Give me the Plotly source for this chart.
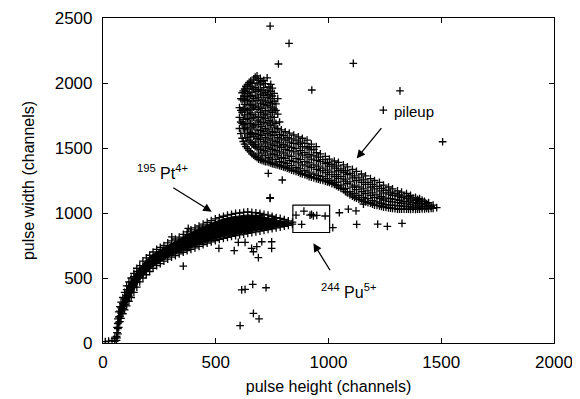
import plotly.graph_objects as go

# ---- data ----
# 195Pt4+ band: column x positions and the y values seen in each column
pt_col_x = [10, 25, 40, 52, 60, 62, 66, 70, 75, 80, 88, 96, 105, 115, 125, 137, 150, 163, 177, 192,
            207, 222, 238, 254, 270, 287, 304, 321, 338, 356, 373, 390, 408, 426, 444, 462, 480,
            498, 516, 534, 552, 570, 588, 606, 624, 642, 660, 678, 696, 714, 732, 750, 768, 786,
            804, 822, 840]
pt_col_y = [
    [10], [15], [20], [12, 35], [20, 50], [40, 80, 120], [70, 110, 150, 185], [120, 160, 200, 240],
    [165, 205, 245, 280], [190, 230, 270, 315], [225, 265, 305, 350], [255, 295, 340, 390],
    [285, 325, 365, 410, 440], [320, 360, 400, 440, 470], [350, 390, 430, 470, 500],
    [390, 430, 470, 510, 535], [430, 470, 510, 550, 575], [470, 510, 550, 595],
    [500, 540, 580, 630], [525, 565, 605, 655], [550, 590, 630, 675], [575, 615, 655, 700],
    [595, 635, 675, 720], [610, 650, 690, 735], [630, 670, 710, 750], [645, 685, 725, 770],
    [660, 700, 740, 785], [672, 712, 752, 800], [685, 725, 765, 815], [698, 738, 778, 835],
    [710, 750, 790, 830, 855], [720, 760, 800, 840, 870], [732, 772, 812, 852, 885],
    [744, 784, 824, 864, 900], [756, 796, 836, 876, 915], [768, 808, 848, 888, 928],
    [778, 818, 858, 898, 942], [788, 828, 868, 908, 955], [797, 837, 877, 917, 965],
    [805, 845, 885, 925, 975], [813, 853, 893, 933, 983], [820, 860, 900, 940, 990],
    [826, 866, 906, 946, 997], [832, 872, 912, 952, 1000], [838, 878, 918, 958, 1005],
    [843, 883, 923, 963, 1008], [849, 889, 929, 969, 1005], [855, 895, 935, 975, 1002],
    [861, 901, 941, 981, 997], [867, 907, 947, 990], [873, 913, 953, 983], [879, 919, 959, 975],
    [885, 925, 965], [891, 930, 958], [898, 935, 950], [905, 940], [915, 930],
]

# saturated (solid) core of the 195Pt4+ band
pt_core_x = [62, 70, 80, 96, 115, 137, 163, 192, 222, 254, 287, 321, 356, 390, 426, 462, 498,
             534, 570, 606, 642, 678, 714, 750, 786, 822, 840,
             822, 786, 750, 714, 678, 642, 606, 570, 534, 498, 462, 426, 390, 356, 321, 287,
             254, 222, 192, 163, 137, 115, 96, 80, 70, 62]
pt_core_y = [100, 220, 300, 370, 450, 515, 578, 638, 683, 718, 752, 782, 815, 850, 882, 910,
             935, 955, 970, 980, 985, 982, 970, 955, 940, 928, 922,
             912, 900, 890, 878, 866, 855, 843, 832, 818, 800, 780, 757, 733, 712, 687, 660,
             625, 590, 540, 485, 405, 335, 270, 205, 140, 60]

# pileup band: column x positions and y values
pu_col_x = [605, 617, 628, 641, 655, 668, 683, 698, 713, 728, 744, 759, 775, 791, 808, 826, 846,
            866, 884, 905, 924, 946, 964, 986, 1004, 1026, 1044, 1066, 1084, 1106, 1124, 1146,
            1164, 1186, 1204, 1226, 1244, 1266, 1284, 1306, 1324, 1346, 1364, 1386, 1404, 1426,
            1444, 1464, 1480]
pu_col_y = [
    [1650, 1735, 1810], [1575, 1690, 1775, 1870, 1925],
    [1530, 1615, 1680, 1755, 1835, 1900, 1955],
    [1495, 1580, 1645, 1725, 1790, 1865, 1920, 1990],
    [1470, 1545, 1620, 1690, 1770, 1835, 1905, 1975, 2015],
    [1445, 1525, 1590, 1670, 1735, 1815, 1880, 1950, 2030],
    [1425, 1500, 1575, 1640, 1715, 1795, 1865, 1935, 2000, 2055],
    [1410, 1490, 1565, 1635, 1700, 1775, 1845, 1915, 1985, 2035],
    [1400, 1480, 1550, 1625, 1695, 1760, 1835, 1905, 1965, 2020],
    [1395, 1470, 1540, 1610, 1685, 1755, 1825, 1890, 1945, 2040],
    [1385, 1455, 1530, 1600, 1675, 1740, 1815, 1880, 1935, 1990],
    [1375, 1450, 1520, 1595, 1660, 1735, 1800, 1860, 1920], [1370, 1440, 1515, 1580, 1650, 1760, 1880],
    [1360, 1425, 1505, 1570, 1640], [1350, 1420, 1490, 1560, 1625],
    [1340, 1405, 1480, 1545, 1615], [1325, 1395, 1470, 1535, 1600],
    [1315, 1385, 1455, 1530, 1585], [1300, 1370, 1445, 1510, 1575],
    [1290, 1360, 1430, 1500, 1560], [1275, 1350, 1415, 1485, 1530],
    [1265, 1335, 1405, 1465, 1510], [1255, 1325, 1395, 1455], [1245, 1310, 1380, 1435],
    [1235, 1295, 1360, 1415], [1220, 1280, 1345, 1400], [1200, 1265, 1325, 1390],
    [1180, 1245, 1310, 1370], [1155, 1225, 1295, 1355], [1130, 1200, 1270, 1335],
    [1115, 1180, 1250, 1320], [1100, 1165, 1235, 1300], [1085, 1150, 1220, 1285],
    [1075, 1135, 1200, 1265], [1060, 1120, 1185, 1250], [1055, 1110, 1170, 1235],
    [1045, 1100, 1155, 1215], [1040, 1090, 1145, 1200], [1035, 1085, 1135, 1185],
    [1030, 1080, 1130, 1170], [1030, 1075, 1120, 1160], [1030, 1070, 1110, 1150],
    [1028, 1065, 1100, 1135], [1028, 1060, 1095, 1120], [1030, 1060, 1090, 1110],
    [1032, 1062, 1090], [1032, 1058, 1080], [1036, 1060], [1042],
]

# further pileup events lying between the columns above
pu2_col_x = [611, 622, 634, 648, 661, 675, 690, 705, 720, 736, 751, 767, 783, 800, 817, 836, 856,
             875, 895, 914, 935, 955, 975, 995, 1015, 1035, 1055, 1075, 1095, 1115, 1135, 1155,
             1175, 1195, 1215, 1235, 1255, 1275, 1295, 1315, 1335, 1355, 1375, 1395, 1415, 1435,
             1455]
pu2_col_y = [
    [1610, 1700, 1790, 1880], [1550, 1650, 1720, 1800, 1880, 1940],
    [1510, 1580, 1655, 1720, 1800, 1870, 1935, 1975],
    [1480, 1560, 1610, 1690, 1760, 1830, 1895, 1955, 2005],
    [1455, 1530, 1605, 1655, 1730, 1800, 1860, 1930, 1995],
    [1435, 1510, 1545, 1610, 1680, 1755, 1830, 1900, 1965, 2045],
    [1415, 1460, 1530, 1605, 1680, 1740, 1815, 1885, 1950, 2020],
    [1405, 1445, 1515, 1595, 1665, 1735, 1805, 1870, 1940, 2010],
    [1395, 1440, 1510, 1580, 1650, 1725, 1790, 1860, 1925, 1995],
    [1390, 1425, 1500, 1570, 1640, 1710, 1785, 1850, 1910, 1970],
    [1380, 1415, 1490, 1560, 1625, 1700, 1775, 1840, 1900, 1960],
    [1372, 1410, 1480, 1550, 1620, 1690, 1790, 1840], [1365, 1395, 1470, 1540, 1605, 1700],
    [1355, 1390, 1460, 1525, 1595], [1345, 1380, 1445, 1515, 1580],
    [1330, 1365, 1435, 1505, 1570], [1320, 1350, 1420, 1495, 1560],
    [1305, 1340, 1410, 1480, 1545], [1295, 1325, 1395, 1465, 1535],
    [1280, 1315, 1385, 1450, 1510], [1270, 1300, 1370, 1440, 1490],
    [1260, 1290, 1360, 1430], [1250, 1280, 1345, 1410], [1240, 1265, 1330, 1390],
    [1225, 1250, 1315, 1375], [1210, 1235, 1295, 1360], [1190, 1215, 1280, 1340],
    [1165, 1190, 1260, 1325], [1140, 1165, 1240, 1305], [1120, 1150, 1215, 1285],
    [1105, 1135, 1200, 1270], [1090, 1120, 1185, 1255], [1080, 1110, 1170, 1235],
    [1068, 1095, 1155, 1220], [1058, 1085, 1140, 1205], [1050, 1075, 1125, 1190],
    [1043, 1065, 1115, 1175], [1038, 1060, 1110, 1160], [1033, 1058, 1105, 1150],
    [1030, 1055, 1098, 1140], [1030, 1052, 1090, 1130], [1030, 1048, 1085, 1125],
    [1030, 1045, 1080, 1115], [1030, 1045, 1075, 1105], [1032, 1048, 1075, 1100],
    [1035, 1048, 1072], [1036, 1050],
]

# isolated events
iso_x = [378, 305, 741, 356, 514, 582, 600, 630, 659, 667, 682, 689, 704, 748, 748, 615, 630, 664,
         723, 667, 692, 608, 856, 891, 918, 925, 933, 948, 985, 881, 1019, 1048, 1125, 1218, 1261,
         1326, 1088, 1122, 1155, 733, 795, 741, 741, 825, 778, 926, 1110, 1317, 1243, 1506]
iso_y = [882, 817, 1113, 592, 728, 710, 774, 774, 728, 702, 741, 656, 779, 779, 728, 408, 413, 451,
         425, 228, 185, 133, 984, 1015, 984, 990, 978, 982, 977, 913, 887, 1002, 913, 915, 897,
         920, 1030, 1017, 1069, 1305, 1254, 1118, 2438, 2305, 2146, 1946, 2151, 1940, 1792, 1548]

x_ticks = [0, 500, 1000, 1500, 2000]
y_ticks = [0, 500, 1000, 1500, 2000, 2500]

# ---- build ----
all_x, all_y = [], []
groups = (list(zip(pt_col_x, pt_col_y)) + list(zip(pu_col_x, pu_col_y))
          + list(zip(pu2_col_x, pu2_col_y)))
for cx, ys in groups:
    for yv in ys:
        all_x.append(cx)
        all_y.append(yv)
all_x += iso_x
all_y += iso_y

fig = go.Figure()
fig.add_trace(go.Scatter(
    x=pt_core_x, y=pt_core_y, mode="lines", fill="toself", fillcolor="black",
    line=dict(color="black", width=1), showlegend=False, hoverinfo="skip"))
fig.add_trace(go.Scatter(
    x=all_x, y=all_y, mode="markers",
    marker=dict(symbol="cross-thin", size=5.5, color="black",
                line=dict(width=1.3, color="black")),
    showlegend=False, hoverinfo="skip"))

fig.add_shape(type="rect", x0=842, x1=1005, y0=850, y1=1060,
              line=dict(color="black", width=1.2))

font_main = "Liberation Sans, Arial, sans-serif"
font_lab = "Liberation Sans Narrow, Liberation Sans, Arial, sans-serif"

ann = [
    dict(x=1125, y=1420, ax=1240, ay=1664),
    dict(x=482, y=1010, ax=305, ay=1202),
    dict(x=933, y=767, ax=1011, ay=548),
]
for a in ann:
    fig.add_annotation(x=a["x"], y=a["y"], ax=a["ax"], ay=a["ay"], xref="x", yref="y",
                       axref="x", ayref="y", text="", showarrow=True, arrowhead=2,
                       arrowsize=1.3, arrowwidth=1.3, arrowcolor="black")

fig.add_annotation(x=1282, y=1782, xref="x", yref="y", text="pileup", showarrow=False,
                   xanchor="left", font=dict(family=font_lab, size=15, color="black"))
fig.add_annotation(x=266, y=1315, xref="x", yref="y",
                   text="<sup>195</sup> Pt<sup>4+</sup>", showarrow=False,
                   font=dict(family=font_lab, size=16, color="black"))
fig.add_annotation(x=1087, y=400, xref="x", yref="y",
                   text="<sup>244</sup> Pu<sup>5+</sup>", showarrow=False,
                   font=dict(family=font_lab, size=16, color="black"))

axis_common = dict(showgrid=False, zeroline=False, showline=True, linecolor="black",
                   linewidth=1.2, mirror="ticks", ticks="inside", ticklen=5,
                   tickcolor="black", tickwidth=1, automargin=False,
                   tickfont=dict(family=font_main, size=17, color="black"),
                   title_font=dict(family=font_main, size=16, color="black"))

fig.update_xaxes(range=[0, 2000], tickvals=x_ticks, title_text="pulse height (channels)",
                 title_standoff=10, ticklabelstandoff=3, **axis_common)
fig.update_yaxes(range=[0, 2500], tickvals=y_ticks, title_text="pulse width (channels)",
                 title_standoff=16, ticklabelstandoff=6, **axis_common)

# the page body has an 8 px margin, so the figure is drawn 8 px in from the corner
fig.update_layout(width=572, height=391, margin=dict(l=95, r=26, t=10, b=56),
                  plot_bgcolor="white", paper_bgcolor="white")

fig.write_html("out.html")
